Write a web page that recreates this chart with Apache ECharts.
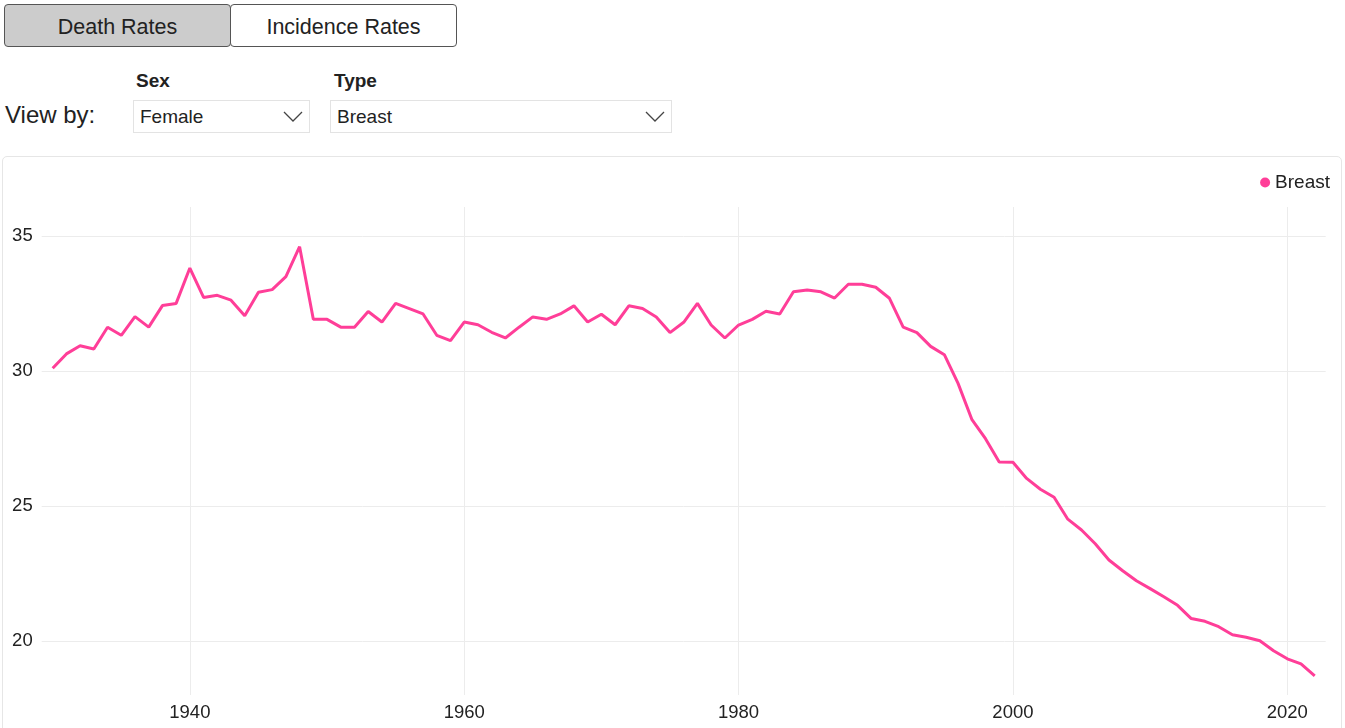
<!DOCTYPE html>
<html>
<head>
<meta charset="utf-8">
<script src="https://cdn.jsdelivr.net/npm/echarts@6/dist/echarts.min.js"></script>
<style>
  body { margin: 0; font-family: 'Liberation Sans', Arial, sans-serif; color: #222; background: #fff; overflow: hidden; }
  .btn { position: absolute; top: 4px; height: 43px; border: 1px solid #555; border-radius: 4px; box-sizing: border-box;
         font-size: 21.5px; line-height: 44px; text-align: center; color: #222; }
  .btn.on { left: 4px; width: 227px; background: #cccccc; }
  .btn.off { left: 230px; width: 227px; background: #fff; }
  .lbl { position: absolute; font-weight: bold; font-size: 19px; top: 70px; }
  .viewby { position: absolute; left: 5px; top: 101px; font-size: 24px; }
  .sel { position: absolute; top: 100px; height: 33px; border: 1px solid #e3e3e3; box-sizing: border-box;
         font-size: 19px; line-height: 31px; padding-left: 6px; }
  .sel svg { position: absolute; right: 6px; top: 10px; }
  .box { position: absolute; left: 2px; top: 156px; width: 1340px; height: 600px; border: 1px solid #e6e6e6;
         border-radius: 5px; box-sizing: border-box; }
  #main { width: 100%; height: 100%; }
</style>
</head>
<body>
<div class="btn on">Death Rates</div>
<div class="btn off">Incidence Rates</div>
<div class="lbl" style="left:136px">Sex</div>
<div class="lbl" style="left:334px">Type</div>
<div class="viewby">View by:</div>
<div class="sel" style="left:133px;width:177px">Female
  <svg width="20" height="12"><polyline points="1,1 10,10 19,1" fill="none" stroke="#444" stroke-width="1.3"/></svg></div>
<div class="sel" style="left:330px;width:342px">Breast
  <svg width="20" height="12"><polyline points="1,1 10,10 19,1" fill="none" stroke="#444" stroke-width="1.3"/></svg></div>
<div class="box"><div id="main"></div></div>
<script>
// female breast cancer death rates, per year
var years = [];
for (var y = 1930; y <= 2022; y++) years.push(y);
var rates = [
  30.1, 30.63, 30.93, 30.81, 31.62, 31.32, 32.01, 31.62, 32.42, 32.5,
  33.81, 32.72, 32.8, 32.62, 32.04, 32.91, 33.01, 33.49, 34.6, 31.91,
  31.91, 31.62, 31.62, 32.2, 31.81, 32.5, 32.31, 32.11, 31.32, 31.12,
  31.81, 31.71, 31.43, 31.22, 31.62, 32.0, 31.91, 32.11, 32.41, 31.81,
  32.1, 31.71, 32.41, 32.31, 32.0, 31.42, 31.8, 32.5, 31.7, 31.22,
  31.7, 31.91, 32.21, 32.11, 32.93, 33.0, 32.93, 32.7, 33.21, 33.21,
  33.1, 32.69, 31.62, 31.42, 30.91, 30.6, 29.54, 28.21, 27.49, 26.63,
  26.62, 26.02, 25.62, 25.32, 24.51, 24.11, 23.6, 23.0, 22.6, 22.23,
  21.94, 21.64, 21.32, 20.83, 20.73, 20.53, 20.23, 20.14, 20.01, 19.64,
  19.34, 19.15, 18.71
];
var xTicks = [1940, 1960, 1980, 2000, 2020];
var yTicks = [20, 25, 30, 35];

var myChart = echarts.init(document.getElementById('main'));
myChart.setOption({
  animation: false,
  textStyle: { fontFamily: 'Liberation Sans, Arial, sans-serif' },
  legend: {
    right: 6, top: 11,
    icon: 'circle', itemWidth: 10, itemHeight: 10, itemGap: 5,
    textStyle: { fontSize: 19, color: '#222' },
    data: ['Breast']
  },
  grid: { left: 38.7, right: 15.3, top: 50, bottom: 60, containLabel: false },
  xAxis: {
    type: 'value', min: 1929.2, max: 2022.8,
    axisLine: { show: false },
    axisTick: { show: false, customValues: xTicks },
    axisLabel: { customValues: xTicks, fontSize: 18.5, color: '#222', margin: 8,
                 formatter: function (v) { return String(v); } },
    splitLine: { show: true, lineStyle: { color: '#ececec' } }
  },
  yAxis: {
    type: 'value', min: 18, max: 36.07,
    axisLine: { show: false },
    axisTick: { show: false, customValues: yTicks },
    axisLabel: { customValues: yTicks, fontSize: 18.5, color: '#222', margin: 9 },
    splitLine: { show: true, lineStyle: { color: '#ececec' } }
  },
  series: [{
    name: 'Breast',
    type: 'line',
    showSymbol: false,
    color: '#ff3e98',
    lineStyle: { width: 3 },
    data: years.map(function (yr, i) { return [yr, rates[i]]; })
  }]
});
</script>
</body>
</html>
